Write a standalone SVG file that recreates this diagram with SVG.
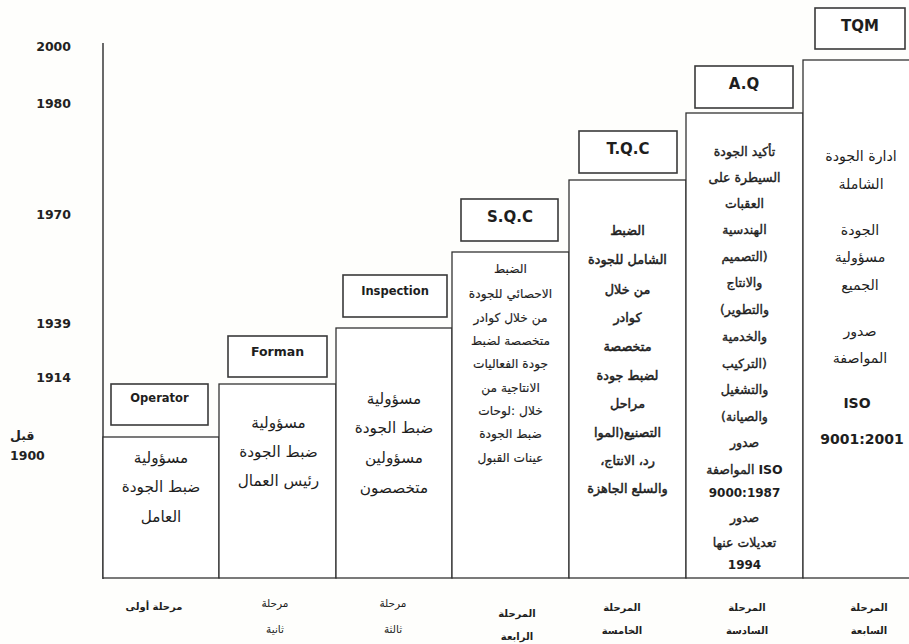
<svg xmlns="http://www.w3.org/2000/svg" width="909" height="644" viewBox="0 0 909 644">
  <style>
    .bg { fill: #fefefc; }
    .col { fill: #ffffff; stroke: #333333; stroke-width: 1.3; }
    .tag { fill: #ffffff; stroke: #3a3a3a; stroke-width: 1.6; }
    .axis { stroke: #444444; stroke-width: 1.6; fill: none; }
    .year { font-family: "DejaVu Sans", sans-serif; font-size: 12.5px; font-weight: bold; fill: #222222; text-anchor: end; }
    .yearl { font-family: "DejaVu Sans", sans-serif; font-size: 12.5px; font-weight: bold; fill: #222222; }
    .lbl { font-family: "DejaVu Sans", sans-serif; fill: #1e1e1e; text-anchor: middle; font-weight: bold; }
    .ar, .ar7, .arb, .arq, .ars, .stage, .stager { direction: rtl; }
    .ltr { direction: ltr; }
    .ar { font-family: "DejaVu Sans", sans-serif; font-size: 15.3px; fill: #1e1e1e; text-anchor: middle; }
    .ar7 { font-family: "DejaVu Sans", sans-serif; font-size: 14.2px; fill: #1e1e1e; text-anchor: middle; }
    .arb { font-family: "DejaVu Sans", sans-serif; font-size: 12.8px; fill: #1e1e1e; stroke: #1e1e1e; stroke-width: 0.5; text-anchor: middle; }
    .arq { font-family: "DejaVu Sans", sans-serif; font-size: 12.5px; fill: #1e1e1e; stroke: #1e1e1e; stroke-width: 0.4; text-anchor: middle; }
    .num { font-family: "DejaVu Sans", sans-serif; font-size: 12px; font-weight: bold; fill: #1e1e1e; text-anchor: middle; }
    .ars { font-family: "DejaVu Sans", sans-serif; font-size: 12.2px; fill: #1e1e1e; stroke: #1e1e1e; stroke-width: 0.15; text-anchor: middle; }
    .stage { font-family: "DejaVu Sans", sans-serif; font-size: 10px; font-weight: bold; fill: #1e1e1e; text-anchor: middle; }
    .stager { font-family: "DejaVu Sans", sans-serif; font-size: 10.5px; fill: #1e1e1e; text-anchor: middle; }
  </style>

  <rect class="bg" x="0" y="0" width="909" height="644"/>

  <!-- time axis -->
  <g id="axis">
    <line class="axis" x1="103" y1="43" x2="103" y2="579"/>
    <text class="year" x="71" y="51">2000</text>
    <text class="year" x="71" y="108">1980</text>
    <text class="year" x="71" y="219">1970</text>
    <text class="year" x="71" y="328">1939</text>
    <text class="year" x="71" y="382">1914</text>
    <text class="yearl" x="10" y="440" font-weight="normal" font-size="12">قبل</text>
    <text class="yearl" x="10" y="460">1900</text>
  </g>

  <!-- stage 1 -->
  <g id="stage1">
    <rect class="col" x="103" y="437" width="116" height="141"/>
    <rect class="tag" x="111" y="384" width="97" height="41"/>
    <text class="lbl" x="159.5" y="402" font-size="11.5">Operator</text>
    <text class="ar" x="161" y="463">مسؤولية</text>
    <text class="ar" x="161" y="492">ضبط الجودة</text>
    <text class="ar" x="161" y="522">العامل</text>
    <text class="stage" x="154" y="610">مرحلة أولى</text>
  </g>

  <!-- stage 2 -->
  <g id="stage2">
    <rect class="col" x="219" y="384" width="117" height="194"/>
    <rect class="tag" x="228" y="336" width="99" height="41"/>
    <text class="lbl" x="277.5" y="356" font-size="12.5">Forman</text>
    <text class="ar" x="278.5" y="428">مسؤولية</text>
    <text class="ar" x="278.5" y="457">ضبط الجودة</text>
    <text class="ar" x="278.5" y="486">رئيس العمال</text>
    <text class="stager" x="275" y="607">مرحلة</text>
    <text class="stager" x="275" y="633">ثانية</text>
  </g>

  <!-- stage 3 -->
  <g id="stage3">
    <rect class="col" x="336" y="328" width="116" height="250"/>
    <rect class="tag" x="343" y="275" width="104" height="42"/>
    <text class="lbl" x="395" y="295" font-size="11.5">Inspection</text>
    <text class="ar" x="394" y="404">مسؤولية</text>
    <text class="ar" x="394" y="433">ضبط الجودة</text>
    <text class="ar" x="394" y="463">مسؤولين</text>
    <text class="ar" x="394" y="493">متخصصون</text>
    <text class="stager" x="393" y="607">مرحلة</text>
    <text class="stager" x="393" y="633">ثالثة</text>
  </g>

  <!-- stage 4 -->
  <g id="stage4">
    <rect class="col" x="452" y="252" width="117" height="326"/>
    <rect class="tag" x="461" y="199" width="97" height="42"/>
    <text class="lbl" x="510" y="222" font-size="15">S.Q.C</text>
    <text class="ars" x="510.5" y="273">الضبط</text>
    <text class="ars" x="510.5" y="298">الاحصائي للجودة</text>
    <text class="ars" x="510.5" y="322">من خلال كوادر</text>
    <text class="ars" x="510.5" y="345">متخصصة لضبط</text>
    <text class="ars" x="510.5" y="368">جودة الفعاليات</text>
    <text class="ars" x="510.5" y="392">الانتاجية من</text>
    <text class="ars" x="510.5" y="415">خلال :لوحات</text>
    <text class="ars" x="510.5" y="438">ضبط الجودة</text>
    <text class="ars" x="510.5" y="462">عينات القبول</text>
    <text class="stage" x="517" y="617">المرحلة</text>
    <text class="stage" x="517" y="640">الرابعة</text>
  </g>

  <!-- stage 5 -->
  <g id="stage5">
    <rect class="col" x="569" y="180" width="117" height="398"/>
    <rect class="tag" x="579" y="131" width="98" height="42"/>
    <text class="lbl" x="628" y="154" font-size="15">T.Q.C</text>
    <text class="arb" x="627.5" y="235">الضبط</text>
    <text class="arb" x="627.5" y="264">الشامل للجودة</text>
    <text class="arb" x="627.5" y="294">من خلال</text>
    <text class="arb" x="627.5" y="322">كوادر</text>
    <text class="arb" x="627.5" y="351">متخصصة</text>
    <text class="arb" x="627.5" y="380">لضبط جودة</text>
    <text class="arb" x="627.5" y="408">مراحل</text>
    <text class="arb" x="627.5" y="437">التصنيع(الموا</text>
    <text class="arb" x="627.5" y="465">رد، الانتاج،</text>
    <text class="arb" x="627.5" y="493">والسلع الجاهزة</text>
    <text class="stage" x="622" y="611">المرحلة</text>
    <text class="stage" x="622" y="634">الخامسة</text>
  </g>

  <!-- stage 6 -->
  <g id="stage6">
    <rect class="col" x="686" y="113" width="117" height="465"/>
    <rect class="tag" x="695" y="66" width="98" height="42"/>
    <text class="lbl" x="744" y="89" font-size="15">A.Q</text>
    <text class="arq" x="744.5" y="156">تأكيد الجودة</text>
    <text class="arq" x="744.5" y="182">السيطرة على</text>
    <text class="arq" x="744.5" y="208">العقبات</text>
    <text class="arq" x="744.5" y="234">الهندسية</text>
    <text class="arq" x="744.5" y="261">(التصميم</text>
    <text class="arq" x="744.5" y="287">والانتاج</text>
    <text class="arq" x="744.5" y="314">والتطوير)</text>
    <text class="arq" x="744.5" y="341">والخدمية</text>
    <text class="arq" x="744.5" y="368">(التركيب</text>
    <text class="arq" x="744.5" y="394">والتشغيل</text>
    <text class="arq" x="744.5" y="421">والصيانة)</text>
    <text class="arq" x="744.5" y="447">صدور</text>
    <text class="arq ltr" x="744.5" y="474">المواصفة  <tspan font-weight="bold" stroke-width="0">ISO</tspan></text>
    <text class="num" x="744.5" y="497">9000:1987</text>
    <text class="arq" x="744.5" y="522">صدور</text>
    <text class="arq" x="744.5" y="547">تعديلات عنها</text>
    <text class="num" x="744.5" y="569">1994</text>
    <text class="stage" x="747" y="611">المرحلة</text>
    <text class="stage" x="747" y="634">السادسة</text>
  </g>

  <!-- stage 7 -->
  <g id="stage7">
    <rect class="col" x="803" y="60" width="112" height="518"/>
    <rect class="tag" x="815" y="8" width="90" height="41"/>
    <text class="lbl" x="860" y="31" font-size="15">TQM</text>
    <text class="ar7" x="861" y="161">ادارة الجودة</text>
    <text class="ar7" x="861" y="189">الشاملة</text>
    <text class="ar7" x="860" y="235">الجودة</text>
    <text class="ar7" x="860" y="262">مسؤولية</text>
    <text class="ar7" x="860" y="290">الجميع</text>
    <text class="ar7" x="860" y="336">صدور</text>
    <text class="ar7" x="860" y="363">المواصفة</text>
    <text class="lbl" x="857" y="408" font-size="14">ISO</text>
    <text class="lbl" x="862" y="444" font-size="14" font-weight="normal">9001:2001</text>
    <text class="stage" x="869" y="611">المرحلة</text>
    <text class="stage" x="869" y="634">السابعة</text>
  </g>
</svg>
